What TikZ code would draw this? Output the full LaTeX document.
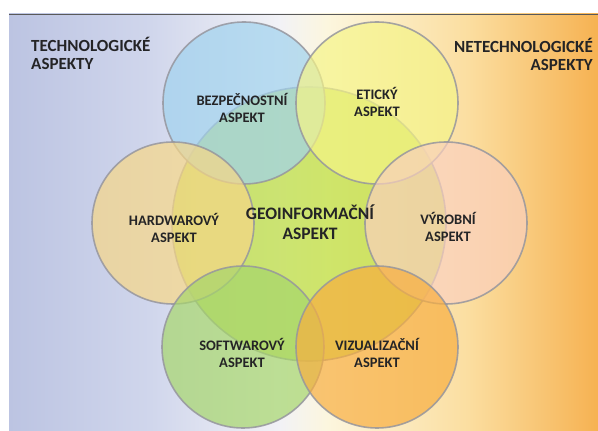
\documentclass[tikz,border=0pt]{standalone}
\usepackage{fontspec}
\setmainfont{Carlito}
\definecolor{bgA}{RGB}{188,196,226}
\definecolor{bgB}{RGB}{208,214,236}
\definecolor{bgC}{RGB}{242,242,246}
\definecolor{bgD}{RGB}{252,246,222}
\definecolor{bgE}{RGB}{251,222,160}
\definecolor{bgF}{RGB}{246,178,82}
\definecolor{ringgray}{RGB}{150,150,158}
\definecolor{txt}{RGB}{36,36,38}
\definecolor{cGeo}{RGB}{188,222,58}
\definecolor{cBez}{RGB}{160,210,238}
\definecolor{cEti}{RGB}{245,244,135}
\definecolor{cHar}{RGB}{247,215,135}
\definecolor{cVyr}{RGB}{250,208,190}
\definecolor{cSof}{RGB}{166,214,108}
\definecolor{cViz}{RGB}{248,174,64}
\pgfdeclarehorizontalshading{bgshade}{100bp}{color(0bp)=(bgA); color(25bp)=(bgA); color(37bp)=(bgB); color(48bp)=(bgC); color(52bp)=(bgD); color(64bp)=(bgE); color(75bp)=(bgF); color(100bp)=(bgF)}
\begin{document}
\begin{tikzpicture}[x=1pt,y=1pt,
  ring/.style={circle, draw=ringgray, line width=1.6pt, fill opacity=0.7, draw opacity=0.85, minimum size=#1, inner sep=0pt},
  lab/.style={font=\fontsize{14.5}{17}\selectfont\bfseries, text=txt, align=center, inner sep=0pt},
  biglab/.style={font=\fontsize{17.5}{20}\selectfont\bfseries, text=txt, align=center, inner sep=0pt},
  headlab/.style={font=\fontsize{17}{18}\selectfont\bfseries, text=txt, inner sep=0pt}]
\useasboundingbox (0,0) rectangle (598,431);
\shade[shading=bgshade] (9,0) rectangle (598,417);
\draw[gray!70!black, line width=0.8pt] (9,417) -- (598,417);
% circles
\node[ring=274pt, fill=cGeo] (geo) at (309,207) {};
\node[ring=162pt, fill=cBez] (bez) at (244,328) {};
\node[ring=162pt, fill=cEti] (eti) at (377,328) {};
\node[ring=162pt, fill=cHar] (har) at (173,208) {};
\node[ring=162pt, fill=cVyr] (vyr) at (446,208) {};
\node[ring=162pt, fill=cSof] (sof) at (243,84) {};
\node[ring=162pt, fill=cViz] (viz) at (377,84) {};
% labels
\node[headlab, anchor=west, align=left] (tech) at (31,377.5) {TECHNOLOGICKÉ\\ASPEKTY};
\node[headlab, anchor=east, align=right] (netech) at (593,376.5) {NETECHNOLOGICKÉ\\ASPEKTY};
\node[lab] (bezl) at (242,323.5) {BEZPEČNOSTNÍ\\ASPEKT};
\node[lab] (etil) at (377,329.5) {ETICKÝ\\ASPEKT};
\node[lab] (harl) at (174,203.5) {HARDWAROVÝ\\ASPEKT};
\node[biglab] (geol) at (310,209) {GEOINFORMAČNÍ\\ASPEKT};
\node[lab] (vyrl) at (448,204) {VÝROBNÍ\\ASPEKT};
\node[lab] (sofl) at (242,78.5) {SOFTWAROVÝ\\ASPEKT};
\node[lab] (vizl) at (377,78.5) {VIZUALIZAČNÍ\\ASPEKT};
\end{tikzpicture}
\end{document}
